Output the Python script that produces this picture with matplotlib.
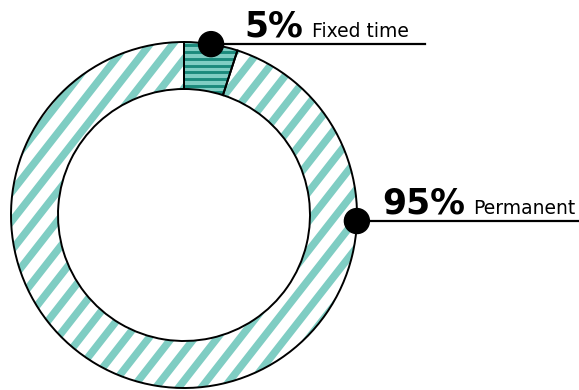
import numpy as np
import matplotlib
matplotlib.use("Agg")
import matplotlib.pyplot as plt
from matplotlib.patches import Wedge, Circle

labels = ['Fixed time', 'Permanent']
values = [5, 95]
pct_text = ['5%', '95%']

light = '#7fcdc3'
dark = '#1b8a7c'

cx, cy = 184, 175
R, r = 173, 126

fig = plt.figure(figsize=(5.79, 3.90), dpi=100)
ax = fig.add_axes([0, 0, 1, 1])
ax.set_xlim(0, 579)
ax.set_ylim(0, 390)
ax.set_aspect('equal')
ax.axis('off')

total = sum(values)
start = 90.0
wedges = []
for v in values:
    sweep = 360.0 * v / total
    wedges.append((start - sweep, start))
    start -= sweep

# 5% wedge: light fill, dark horizontal stripes
t1, t2 = wedges[0]
w = Wedge((cx, cy), R, t1, t2, width=R - r, facecolor=light, edgecolor='none')
ax.add_patch(w)
for yy in np.arange(cy + r - 10, cy + R + 10, 6.7):
    ln, = ax.plot([cx - 20, cx + 80], [yy, yy], color=dark, lw=2.1, solid_capstyle='butt')
    ln.set_clip_path(w)

# 95% wedge: white fill, diagonal stripes
t1, t2 = wedges[1]
w2 = Wedge((cx, cy), R, t1, t2, width=R - r, facecolor='white', edgecolor='none')
ax.add_patch(w2)
ang = np.deg2rad(52)
d = np.array([np.cos(ang), np.sin(ang)])
n = np.array([-np.sin(ang), np.cos(ang)])
for c in np.arange(-300, 300, 18):
    p0 = np.array([cx, cy]) + n * c - d * 400
    p1 = np.array([cx, cy]) + n * c + d * 400
    ln, = ax.plot([p0[0], p1[0]], [p0[1], p1[1]], color=light, lw=5.4, solid_capstyle='butt')
    ln.set_clip_path(w2)

# outlines
for t1, t2 in wedges:
    ax.add_patch(Wedge((cx, cy), R, t1, t2, width=R - r, facecolor='none',
                       edgecolor='black', lw=1.4, zorder=5))

# labels
dot_ang = [np.deg2rad(81), np.deg2rad(-2)]
line_end = [425, 579]
pct_x = [244, 382]
lab_x = [312, 473]
for i in range(2):
    dx = cx + R * np.cos(dot_ang[i])
    dy = cy + R * np.sin(dot_ang[i])
    ax.plot([dx, line_end[i]], [dy, dy], color='black', lw=1.6, zorder=6)
    ax.add_patch(Circle((dx, dy), 12.5, color='black', zorder=7))
    ax.text(pct_x[i], dy + 8, pct_text[i], fontsize=25, fontweight='bold',
            family='DejaVu Sans', va='baseline', ha='left', zorder=8)
    ax.text(lab_x[i], dy + 7, labels[i], fontsize=13.5,
            family='DejaVu Sans', va='baseline', ha='left', zorder=8)

fig.savefig('out.png', dpi=100)
